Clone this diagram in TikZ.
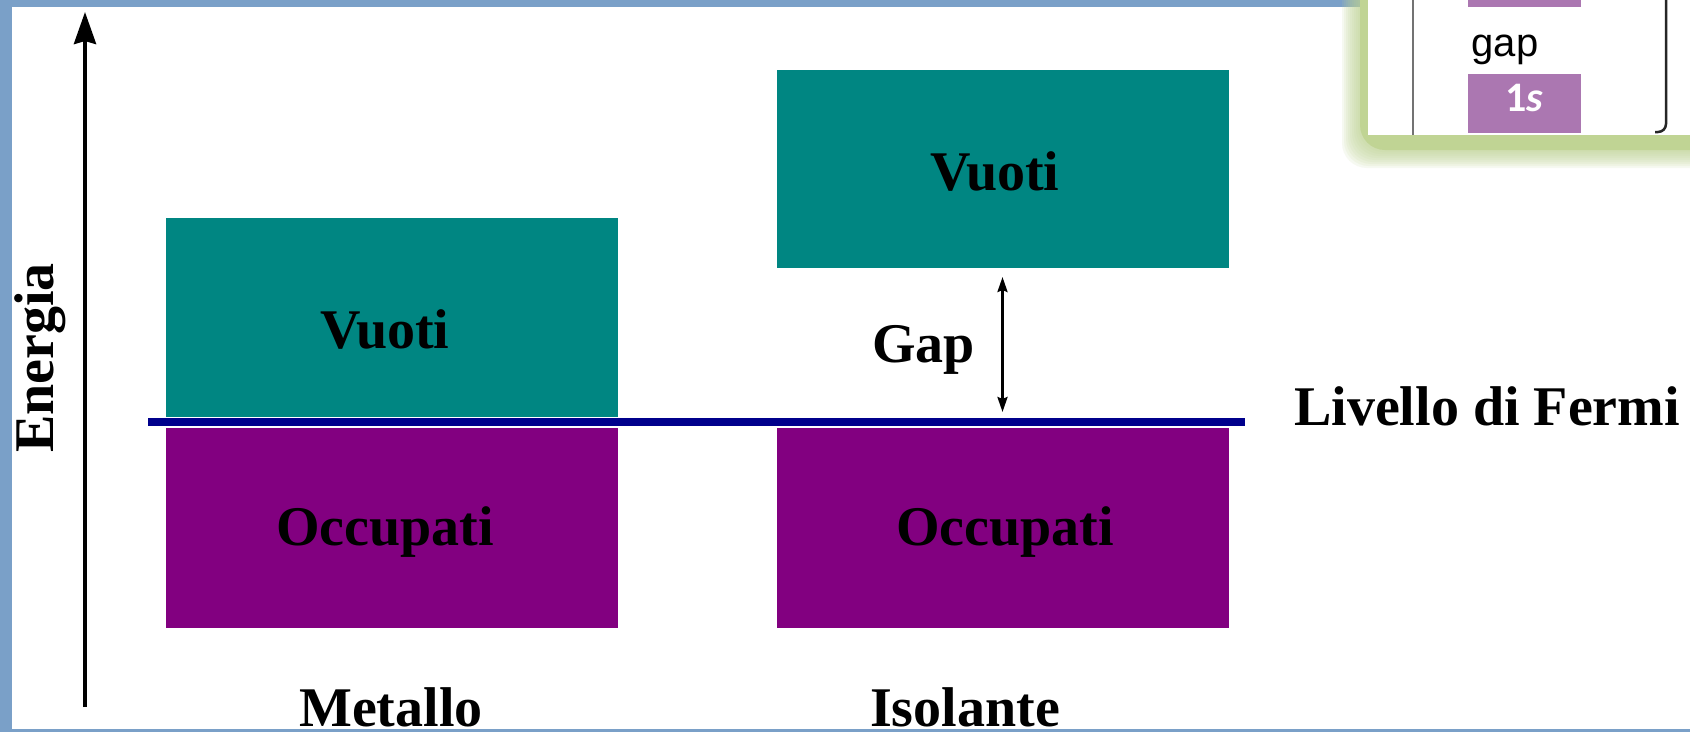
\documentclass[tikz,border=0pt]{standalone}
\usepackage{fontspec}
\setmainfont{Liberation Serif}
\newfontfamily\insetsans{Liberation Sans}
\newfontfamily\insetcal{Carlito}
\usetikzlibrary{arrows.meta}
\definecolor{bordblue}{RGB}{122,160,200}
\definecolor{tealband}{RGB}{0,134,130}
\definecolor{purpband}{RGB}{130,0,128}
\definecolor{fermiblue}{RGB}{0,0,140}
\definecolor{insetgreen}{RGB}{192,212,148}
\definecolor{insetpurple}{RGB}{171,119,177}
\begin{document}
\begin{tikzpicture}[x=1pt,y=-1pt,
  band/.style={inner sep=0pt, outer sep=0pt, minimum width=452pt},
  emptyband/.style={band, fill=tealband},
  fullband/.style={band, fill=purpband},
  lbl/.style={font=\fontsize{56}{60}\selectfont\bfseries, inner sep=0pt, anchor=base, text=black},
  axisarrow/.style={line width=4pt, -{Stealth[length=32pt,width=22pt,inset=3pt]}},
  gaparrow/.style={line width=2.6pt, {Stealth[length=15pt,width=10pt,inset=2pt]}-{Stealth[length=15pt,width=10pt,inset=2pt]}},
  fermiline/.style={fermiblue, line width=8pt},
  insetbox/.style={fill=insetpurple}
]
\clip (0,0) rectangle (1690,732);
\fill[white] (0,0) rectangle (1690,732);

% energy axis
\coordinate (abot) at (85,707);
\coordinate (atop) at (85,12);
\draw[axisarrow] (abot) -- (atop);
\node[lbl, rotate=90] (tene) at (53,358) {Energia};

% bands
\node[emptyband, minimum height=199pt] (mv) at (392,317.5) {};
\node[fullband, minimum height=200pt] (mo) at (392,528) {};
\node[emptyband, minimum height=198pt] (iv) at (1002.5,169) {};
\node[fullband, minimum height=200pt] (io) at (1002.5,528) {};

% Fermi level
\coordinate (fl) at (148,422);
\coordinate (fr) at (1245,422);
\draw[fermiline] (fl) -- (fr);

% gap arrow
\draw[gaparrow, shorten <=9pt, shorten >=10pt] (iv.south) -- (iv.south |- fl);

% labels
\node[lbl] (tmv) at (385,348) {Vuoti};
\node[lbl] (tiv) at (995,190) {Vuoti};
\node[lbl] (tmo) at (385,545) {Occupati};
\node[lbl] (tio) at (1005,545) {Occupati};
\node[lbl] (tmet) at (391,726) {Metallo};
\node[lbl] (tiso) at (965,726) {Isolante};
\node[lbl, anchor=base west] (tfermi) at (1294,425) {Livello di Fermi};
\node[lbl, anchor=base east] (tgap) at (975,362) {Gap};

% slide borders
\fill[bordblue] (0,0) rectangle (12,732);
\fill[bordblue] (0,0) rectangle (1690,7);
\fill[bordblue] (0,729) rectangle (1690,732);

% inset
\foreach \i in {18,16,...,2}
  \fill[insetgreen, opacity=0.13, rounded corners=25pt] (1360-\i,-60) rectangle (1760+\i,150+\i);
\fill[insetgreen, rounded corners=25pt] (1360,-60) rectangle (1760,150);
\fill[white] (1368,-10) rectangle (1700,135);
\draw[black!55, line width=2pt] (1413,-5) -- (1413,135);
\draw[black!85, line width=2.5pt, rounded corners=8pt] (1666,-5) -- (1666,132) -- (1655,132);
\fill[insetbox] (1468,-5) rectangle (1581,7);
\node[insetbox, minimum width=113pt, minimum height=59pt, inner sep=0pt] (onesbox) at (1524.5,103.5) {};
\node[font=\insetsans\fontsize{40}{44}\selectfont, inner sep=0pt, anchor=base] (tgapi) at (1505,56) {gap};
\node[font=\insetcal\fontsize{42}{46}\selectfont\bfseries, text=white, inner sep=0pt, anchor=base] (tones) at (1524,111) {1\textit{s}};
\end{tikzpicture}
\end{document}
